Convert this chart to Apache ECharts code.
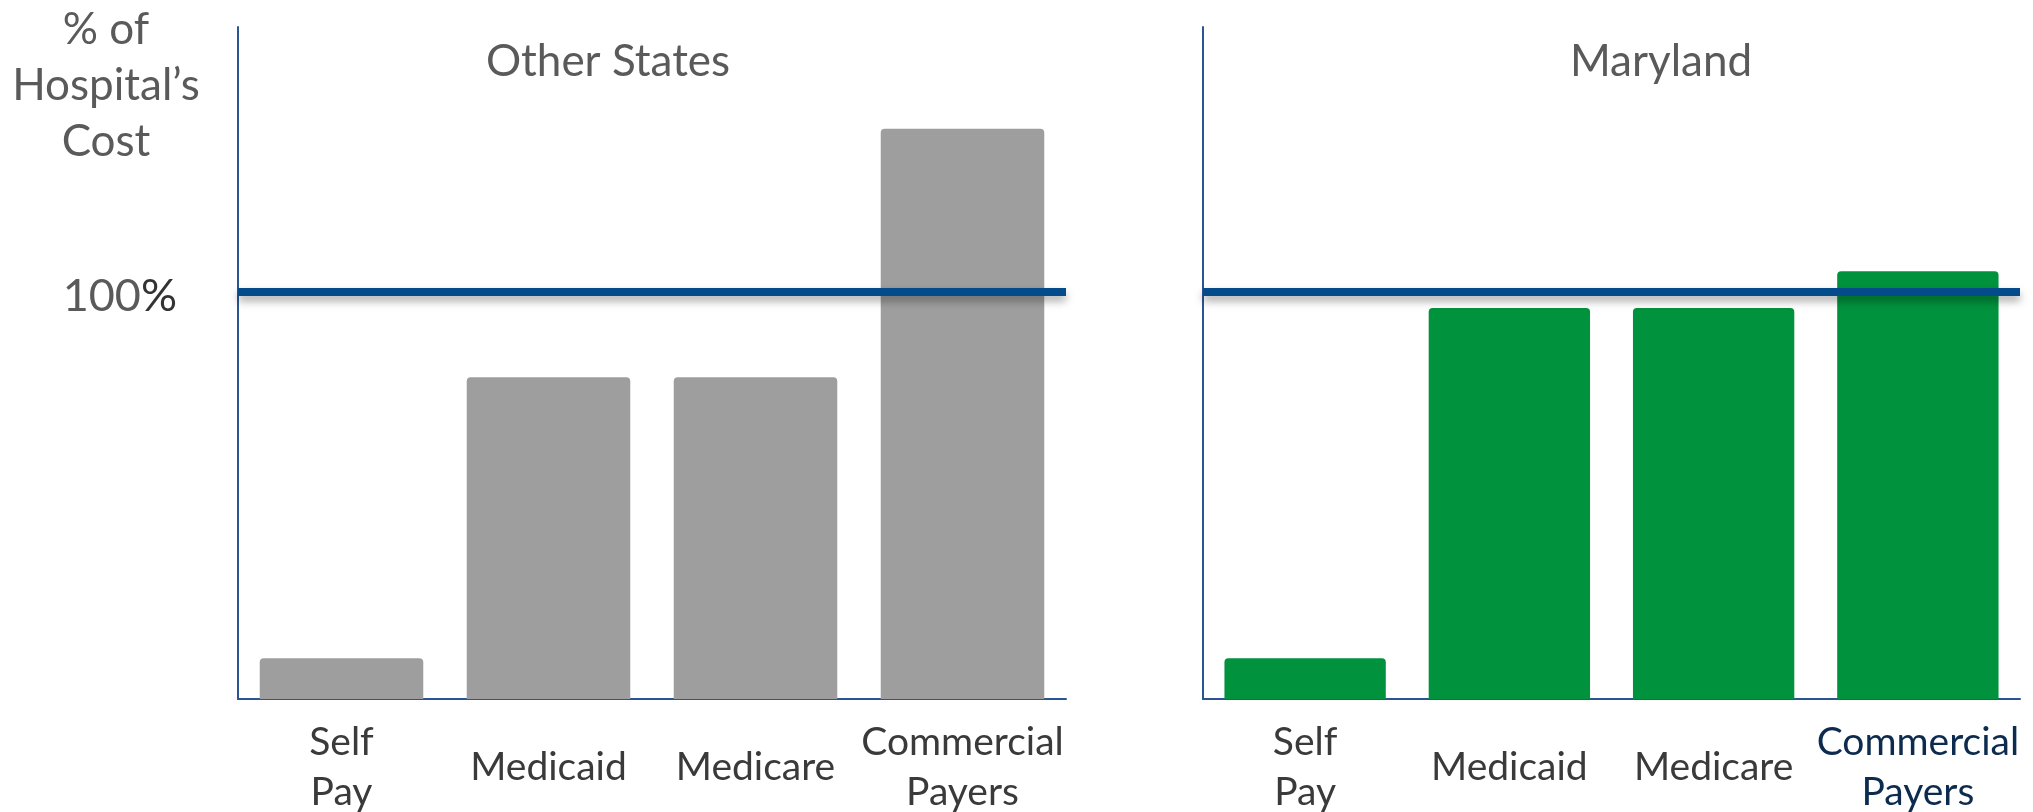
<!DOCTYPE html>
<html>
<head>
<meta charset="utf-8">
<script src="https://cdn.jsdelivr.net/npm/echarts@6/dist/echarts.min.js"></script>
<style>
  html, body { margin: 0; padding: 0; background: #ffffff; }
  #chart { width: 2033px; height: 812px; }
</style>
</head>
<body>
<div id="chart"></div>
<script>
// Payer categories shared by both panels
const categories = ['Self Pay', 'Medicaid', 'Medicare', 'Commercial Payers'];
// Payment as % of hospital's cost
const otherStates = [10, 79, 79, 140];
const maryland = [10, 96, 96, 105];
// Reference level drawn across both panels
const costLevel = 100;
const panelTitles = ['Other States', 'Maryland'];
const axisName = '% of\nHospital\u2019s\nCost';

const FONT = 'Lato, "Open Sans", sans-serif';
const AXIS_BLUE = '#2b5592';
const LINE_BLUE = '#034b8a';

const labelStyle = {
  fontFamily: FONT,
  fontSize: 39,
  lineHeight: 50,
  verticalAlign: 'middle',
  color: '#3a3a3a'
};

const chart = echarts.init(document.getElementById('chart'), null, { renderer: 'canvas' });

function xAxisFor(gridIndex, data) {
  return {
    type: 'category',
    gridIndex: gridIndex,
    data: data,
    axisLine: { show: true, lineStyle: { color: AXIS_BLUE, width: 2 } },
    axisTick: { show: false },
    axisLabel: Object.assign({
      interval: 0,
      margin: 68,
      formatter: v => v.replace(' ', '\n')
    }, labelStyle)
  };
}

function yAxisFor(gridIndex, showLabel) {
  return {
    type: 'value',
    gridIndex: gridIndex,
    min: 0,
    max: 165,
    interval: 100,
    axisLine: { show: true, lineStyle: { color: AXIS_BLUE, width: 2 } },
    axisTick: { show: false },
    splitLine: { show: false },
    axisLabel: {
      show: showLabel,
      margin: 61,
      padding: [10, 0, 0, 0],
      formatter: v => (v === costLevel ? '{n|' + v + '}{p|%}' : ''),
      rich: {
        n: { fontFamily: FONT, fontSize: 45, color: '#5a5a5a' },
        p: { fontFamily: FONT, fontSize: 45, color: '#333333' }
      }
    }
  };
}

function barSeries(index, values, color) {
  return {
    type: 'bar',
    xAxisIndex: index,
    yAxisIndex: index,
    data: values,
    barCategoryGap: '21%',
    itemStyle: { color: color, borderRadius: [4, 4, 0, 0] },
    markLine: {
      silent: true,
      symbol: ['none', 'none'],
      label: { show: false },
      lineStyle: {
        type: 'solid',
        color: LINE_BLUE,
        width: 8,
        shadowColor: 'rgba(0,0,0,0.35)',
        shadowBlur: 8,
        shadowOffsetY: 5
      },
      data: [{ yAxis: costLevel }]
    }
  };
}

const marylandAxisData = categories.map((c, i) =>
  i === categories.length - 1
    ? { value: c, textStyle: Object.assign({}, labelStyle, { color: '#0c2b4e' }) }
    : c
);

chart.setOption({
  backgroundColor: '#ffffff',
  animation: false,
  grid: [
    { left: 238, right: 967, top: 27, bottom: 113, outerBoundsMode: 'none' },
    { left: 1203, right: 13, top: 27, bottom: 113, outerBoundsMode: 'none' }
  ],
  xAxis: [xAxisFor(0, categories), xAxisFor(1, marylandAxisData)],
  yAxis: [yAxisFor(0, true), yAxisFor(1, false)],
  series: [
    barSeries(0, otherStates, '#9e9e9e'),
    barSeries(1, maryland, '#00923d')
  ],
  graphic: [
    {
      type: 'text',
      x: 106,
      y: 2,
      style: {
        text: axisName,
        align: 'center',
        verticalAlign: 'top',
        fontFamily: FONT,
        fontSize: 44,
        lineHeight: 56,
        fill: '#5a5a5a'
      }
    },
    {
      type: 'text',
      x: 608,
      y: 62,
      style: {
        text: panelTitles[0],
        align: 'center',
        verticalAlign: 'middle',
        fontFamily: FONT,
        fontSize: 44,
        fill: '#5a5a5a'
      }
    },
    {
      type: 'text',
      x: 1661,
      y: 62,
      style: {
        text: panelTitles[1],
        align: 'center',
        verticalAlign: 'middle',
        fontFamily: FONT,
        fontSize: 44,
        fill: '#5a5a5a'
      }
    }
  ]
});
</script>
</body>
</html>
